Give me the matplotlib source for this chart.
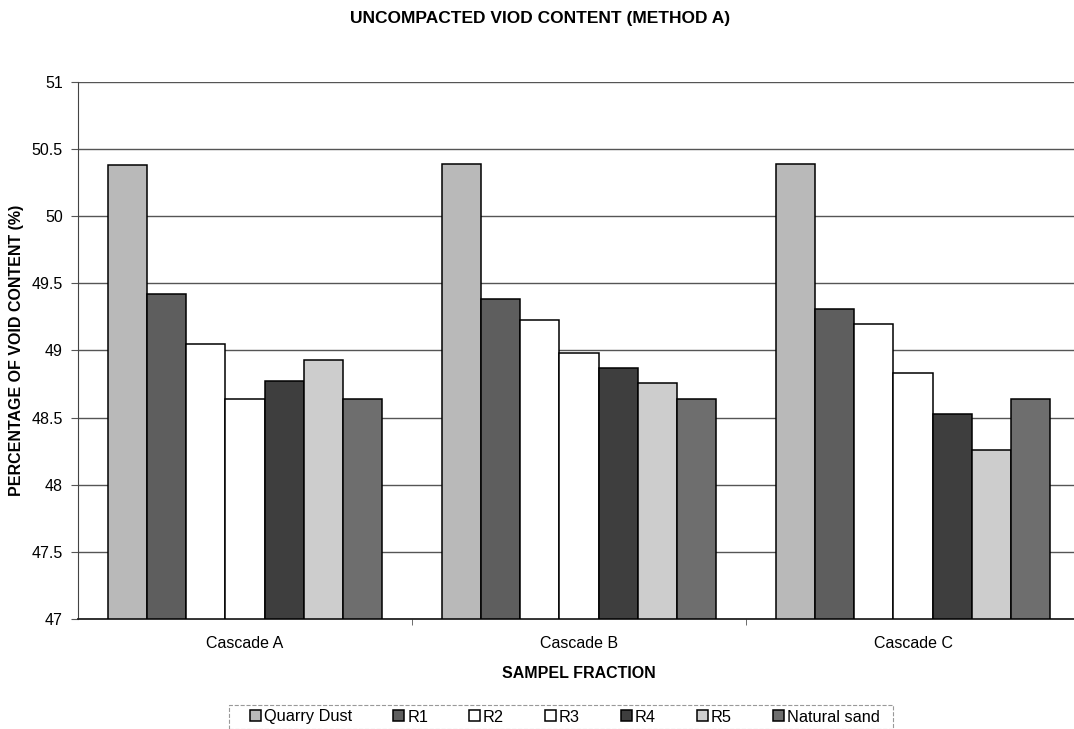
import numpy as np
from matplotlib import pyplot as plt
from matplotlib.patches import Rectangle

plt.rcParams['font.family'] = ['Liberation Sans', 'DejaVu Sans']

# void content (%) per sample fraction, one list per material
cascades = ["Cascade A", "Cascade B", "Cascade C"]
quarry_dust = [50.38, 50.39, 50.39]
r1 = [49.42, 49.38, 49.31]
r2 = [49.05, 49.23, 49.20]
r3 = [48.64, 48.98, 48.83]
r4 = [48.77, 48.87, 48.53]
r5 = [48.93, 48.76, 48.26]
natural_sand = [48.64, 48.64, 48.64]

names = ["Quarry Dust", "R1", "R2", "R3", "R4", "R5", "Natural sand"]
series = [quarry_dust, r1, r2, r3, r4, r5, natural_sand]
colours = ["#b9b9b9", "#5e5e5e", "#ffffff", "#ffffff", "#3e3e3e", "#cdcdcd", "#6e6e6e"]

W, H = 1074, 729
fig = plt.figure(figsize=(W / 100, H / 100), dpi=100)
ax = fig.add_axes([78 / W, 1 - 619.4 / H, 1002 / W, (619.4 - 81.5) / H])

x = np.arange(len(cascades))
width = 0.1175
for i, (name, vals, col) in enumerate(zip(names, series, colours)):
    offs = (i - 3) * width
    ax.bar(x + offs, np.array(vals) - 47, width, bottom=47, color=col,
           edgecolor="black", linewidth=1.1, label=name, zorder=3)

ax.set_ylim(47, 51)
ax.set_xlim(-0.5, 2.5)
ax.set_yticks(np.arange(47, 51.01, 0.5))
ax.set_yticklabels(["47", "47.5", "48", "48.5", "49", "49.5", "50", "50.5", "51"])
ax.grid(axis="y", color="#555555", linewidth=1, zorder=0)
ax.set_xticks(x)
ax.set_xticklabels(cascades)
ax.set_xticks([0.5, 1.5], minor=True)
ax.tick_params(axis="x", which="major", length=0, pad=12, labelsize=11.5)
ax.tick_params(axis="x", which="minor", length=4, color="#555555")
ax.tick_params(axis="y", length=5, color="#555555", labelsize=11.5, pad=6)
for s in ["top", "right"]:
    ax.spines[s].set_visible(False)
ax.spines["left"].set_color("#444444")
ax.spines["bottom"].set_color("#222222")
ax.spines["bottom"].set_linewidth(1.3)

ax.set_xlabel("SAMPEL FRACTION", fontsize=11.5, fontweight="bold", labelpad=11)
ax.set_ylabel("PERCENTAGE OF VOID CONTENT (%)", fontsize=11.5, fontweight="bold", labelpad=5)
fig.text(540 / W, 1 - 18 / H, "UNCOMPACTED VIOD CONTENT (METHOD A)",
         ha="center", va="center", fontsize=12.5, fontweight="bold")

# legend entries without frame, box drawn separately so it can be wider
leg = fig.legend(loc="center", bbox_to_anchor=(565 / W, 1 - 717 / H), ncol=7,
                 fontsize=11.8, handlelength=0.65, handleheight=0.65, handletextpad=0.2,
                 columnspacing=2.5, frameon=False, borderpad=0, borderaxespad=0)
fig.patches.append(Rectangle((229 / W, 0), 664 / W, (H - 705) / H, transform=fig.transFigure,
                             fill=False, edgecolor="#999999", linestyle="--", linewidth=0.8))

fig.savefig("out.png", dpi=100)
